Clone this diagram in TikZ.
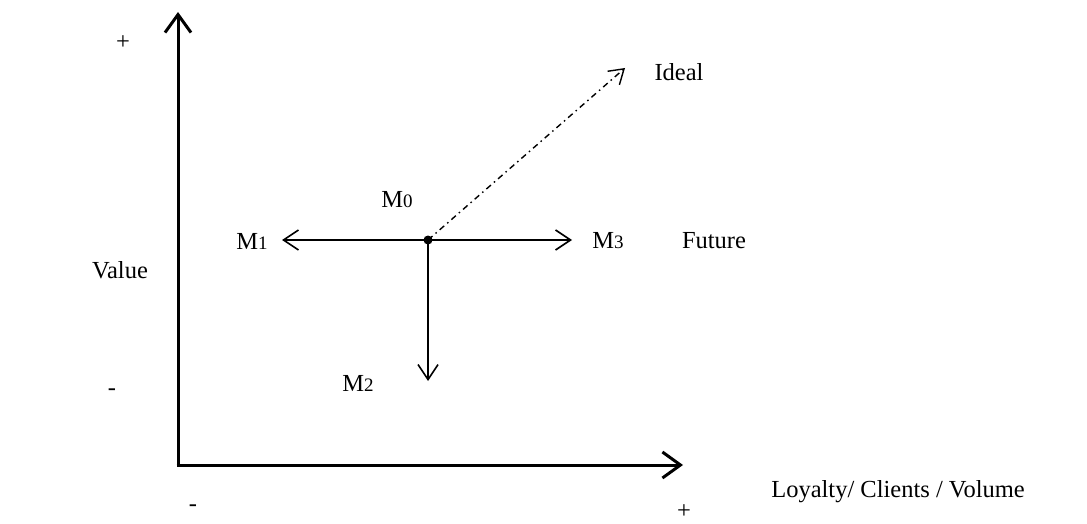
\documentclass[tikz,border=0pt]{standalone}
\usepackage{fontspec}
\setmainfont{Liberation Serif}
\usetikzlibrary{arrows.meta}
\newcommand\mydig[1]{{\fontsize{19}{20}\selectfont #1}}
\tikzset{
  axis/.style={line width=3pt, -{Straight Barb[length=18pt,width=26pt,line width=3pt]}},
  thin/.style={line width=1.6pt, -{Straight Barb[length=15pt,width=20pt,line width=1.6pt]}},
  lbl/.style={font=\fontsize{24.5}{29}\selectfont, inner sep=0pt},
}
\begin{document}
\begin{tikzpicture}[x=1pt,y=-1pt]
\useasboundingbox (0,0) rectangle (1087,524);
\coordinate (org) at (178,465);
\coordinate (ytop) at (178,12);
\coordinate (xend) at (683,465);
\draw[axis] (178,466.5) -- (ytop);
\draw[axis] (176.5,465) -- (xend);
\node[circle, fill, inner sep=0pt, minimum size=9pt] (O) at (428,240) {};
\coordinate (m1) at (282,240);
\coordinate (m3) at (572,240);
\coordinate (m2) at (428,381);
\coordinate (id) at (625,68);
\draw[thin] (O.center) -- (m1);
\draw[thin] (O.center) -- (m3);
\draw[thin] (O.center) -- (m2);
\draw[line width=1.4pt, dash pattern=on 6pt off 4pt on 1.5pt off 4pt, -{Straight Barb[length=14pt,width=18pt,line width=1.4pt]}] (O.center) -- (id);
\node[lbl] (pt) at (123,43) {+};
\node[lbl] (val) at (120,270) {Value};
\node[lbl] (mt) at (112,392) {-};
\node[lbl] (bm) at (193,508) {-};
\node[lbl] (bp) at (684,512) {+};
\node[lbl] (loy) at (898,492) {Loyalty/ Clients / Volume};
\node[lbl] (M0) at (397,200) {M\mydig{0}};
\node[lbl] (M1) at (252,241) {M\mydig{1}};
\node[lbl] (M3) at (608,241) {M\mydig{3}};
\node[lbl] (fut) at (714,241) {Future};
\node[lbl] (M2) at (358,383) {M\mydig{2}};
\node[lbl] (ideal) at (679,72) {Ideal};
\end{tikzpicture}
\end{document}
